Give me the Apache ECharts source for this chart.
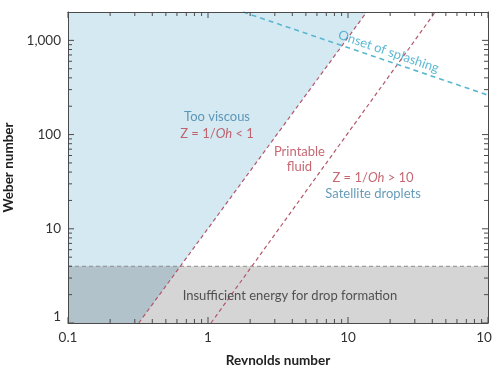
<!DOCTYPE html>
<html>
<head>
<meta charset="utf-8">
<script src="https://cdn.jsdelivr.net/npm/echarts@6/dist/echarts.min.js"></script>
<style>
  html, body { margin: 0; padding: 0; background: #fff; }
  #chart { width: 492px; height: 365px; }
</style>
</head>
<body>
<div id="chart"></div>
<script>
// Axis ranges and tick values (log-log printability map)
const reynoldsRange = [0.1, 100];
const weberRange = [1, 2000];
const reynoldsTicks = [0.1, 1, 10, 100];
const weberTicks = [1, 10, 100, 1000];
const reynoldsMinor = [0.2, 0.3, 0.4, 0.5, 0.6, 0.7, 0.8, 0.9,
                       2, 3, 4, 5, 6, 7, 8, 9,
                       20, 30, 40, 50, 60, 70, 80, 90];
const weberMinor = [2, 3, 4, 5, 6, 7, 8, 9,
                    20, 30, 40, 50, 60, 70, 80, 90,
                    200, 300, 400, 500, 600, 700, 800, 900];

// Regime boundaries as [Reynolds, Weber] pairs
const ohOneBoundary = [[0.32, 1], [13.6, 2000]];   // Z = 1
const ohTenBoundary = [[1.05, 1], [42, 2000]];     // Z = 10
const splashOnset = [[1.78, 2000], [100, 262]];
const minEnergy = [[0.1, 4], [100, 4]];

// Region labels, anchored in data coordinates
const noteAnchors = [[1.16, 153], [1.16, 101], [4.5, 65], [4.5, 46], [15.1, 34.5], [15.1, 23.3], [3.85, 1.93], [19.5, 760]];
const noteTexts = ['Too viscous', 'Z = 1/Oh < 1', 'Printable', 'fluid', 'Z = 1/Oh > 10', 'Satellite droplets', 'Insufficient energy for drop formation', 'Onset of splashing'];

const BLUE_TXT = '#3f82a8';
const RED_TXT = '#b8414f';
const CYAN = '#33a8c8';
const FONT = 'Lato, "Open Sans", sans-serif';
const NOTE_SIZE = 13;
const AXIS_COLOR = '#4a4a4a';
const MAJOR_LEN = 6;
const MINOR_LEN = 4;

function zLabel(text) {
  const m = text.match(/^(.*1\/)(Oh)(.*)$/);
  return '{a|' + m[1] + '}{i|' + m[2] + '}{a|' + m[3] + '}';
}

const noteStyles = [
  { color: BLUE_TXT },
  { color: RED_TXT, rich: true },
  { color: RED_TXT },
  { color: RED_TXT },
  { color: RED_TXT, rich: true },
  { color: BLUE_TXT },
  { color: '#2e2e2e' },
  { color: CYAN, rotate: -19 }
];

const noteData = noteAnchors.map((p, i) => {
  const st = noteStyles[i];
  const label = {
    show: true, position: 'inside', color: st.color,
    fontFamily: FONT, fontSize: NOTE_SIZE, rotate: st.rotate || 0,
    formatter: st.rich ? zLabel(noteTexts[i]) : noteTexts[i]
  };
  if (st.rich) {
    label.rich = {
      a: { color: st.color, fontFamily: FONT, fontSize: NOTE_SIZE },
      i: { color: st.color, fontFamily: FONT, fontSize: NOTE_SIZE, fontStyle: 'italic' }
    };
  }
  return { value: p, label };
});

// Inward frame ticks as thin rect symbols sitting on the four frame edges
const tickData = [];
function pushX(v, len) {
  tickData.push({ value: [v, weberRange[0]], symbolSize: [1, len], symbolOffset: [0, -len / 2] });
  tickData.push({ value: [v, weberRange[1]], symbolSize: [1, len], symbolOffset: [0, len / 2] });
}
function pushY(v, len) {
  tickData.push({ value: [reynoldsRange[0], v], symbolSize: [len, 1], symbolOffset: [len / 2, 0] });
  tickData.push({ value: [reynoldsRange[1], v], symbolSize: [len, 1], symbolOffset: [-len / 2, 0] });
}
reynoldsTicks.forEach(v => pushX(v, MAJOR_LEN));
reynoldsMinor.forEach(v => pushX(v, MINOR_LEN));
weberTicks.forEach(v => pushY(v, MAJOR_LEN));
weberMinor.forEach(v => pushY(v, MINOR_LEN));

function nearTick(v, list) {
  return list.find(t => Math.abs(Math.log10(v) - Math.log10(t)) < 1e-6);
}

const chart = echarts.init(document.getElementById('chart'), null, { renderer: 'canvas' });

const axisLine = () => ({ show: true, lineStyle: { color: AXIS_COLOR, width: 1 } });
const titleStyle = () => ({ fontFamily: FONT, fontWeight: 'bold', fontSize: 13.5, color: '#222' });

chart.setOption({
  animation: false,
  backgroundColor: '#fff',
  grid: { left: 68, right: 4, top: 12, bottom: 42, containLabel: false, outerBoundsMode: 'none' },
  xAxis: [{
    type: 'log', logBase: 10, min: reynoldsRange[0], max: reynoldsRange[1],
    name: 'Reynolds number', nameLocation: 'middle', nameGap: 31,
    nameTextStyle: titleStyle(),
    axisLine: axisLine(),
    axisTick: { show: false },
    splitLine: { show: false },
    axisLabel: {
      fontFamily: FONT, fontSize: 13.5, color: '#333', margin: 8,
      formatter: v => { const t = nearTick(v, reynoldsTicks); return t === undefined ? '' : String(t); }
    },
    z: 10
  }, {
    type: 'log', logBase: 10, min: reynoldsRange[0], max: reynoldsRange[1], position: 'top',
    axisLine: axisLine(),
    axisTick: { show: false }, axisLabel: { show: false }, splitLine: { show: false }, z: 10
  }],
  yAxis: [{
    type: 'log', logBase: 10, min: weberRange[0], max: weberRange[1],
    name: 'Weber number', nameLocation: 'middle', nameGap: 48,
    nameTextStyle: titleStyle(),
    axisLine: axisLine(),
    axisTick: { show: false },
    splitLine: { show: false },
    axisLabel: {
      fontFamily: FONT, fontSize: 13.5, color: '#333', margin: 7, lineHeight: 13,
      verticalAlignMinLabel: 'bottom',
      formatter: v => {
        const t = nearTick(v, weberTicks);
        if (t === undefined) return '';
        return t >= 1000 ? t.toLocaleString('en-US') : String(t);
      }
    },
    z: 10
  }, {
    type: 'log', logBase: 10, min: weberRange[0], max: weberRange[1], position: 'right',
    axisLine: axisLine(),
    axisTick: { show: false }, axisLabel: { show: false }, splitLine: { show: false }, z: 10
  }],
  series: [
    {
      // "too viscous" region: everything above/left of the Z = 1 boundary
      type: 'line', name: 'Too viscous', silent: true, symbol: 'none',
      data: [[reynoldsRange[0], weberRange[0]], ...ohOneBoundary],
      lineStyle: { width: 0, opacity: 0 },
      areaStyle: { color: '#d5e9f2', opacity: 1, origin: 'end' },
      z: 1
    },
    {
      // insufficient energy band below the threshold Weber number
      type: 'line', name: 'Insufficient energy', silent: true, symbol: 'none',
      data: minEnergy,
      lineStyle: { color: '#8c8c8c', width: 1, type: [4, 3] },
      areaStyle: { color: 'rgba(0,0,0,0.165)', opacity: 1, origin: 'start' },
      z: 2
    },
    {
      type: 'line', name: 'Z = 1', silent: true, symbol: 'none',
      data: ohOneBoundary,
      lineStyle: { color: '#b4566a', width: 1.2, type: [4, 3] },
      z: 3
    },
    {
      type: 'line', name: 'Z = 10', silent: true, symbol: 'none',
      data: ohTenBoundary,
      lineStyle: { color: '#b4566a', width: 1.2, type: [4, 3] },
      z: 3
    },
    {
      type: 'line', name: 'Onset of splashing', silent: true, symbol: 'none',
      data: splashOnset,
      lineStyle: { color: '#58b6d1', width: 1.6, type: [5, 4] },
      z: 3
    },
    {
      type: 'scatter', name: 'frame ticks', silent: true, clip: false,
      symbol: 'rect',
      itemStyle: { color: AXIS_COLOR, opacity: 1 },
      data: tickData,
      z: 11
    },
    {
      type: 'scatter', name: 'notes', silent: true,
      symbolSize: 0,
      data: noteData,
      z: 12
    }
  ]
});
</script>
</body>
</html>
